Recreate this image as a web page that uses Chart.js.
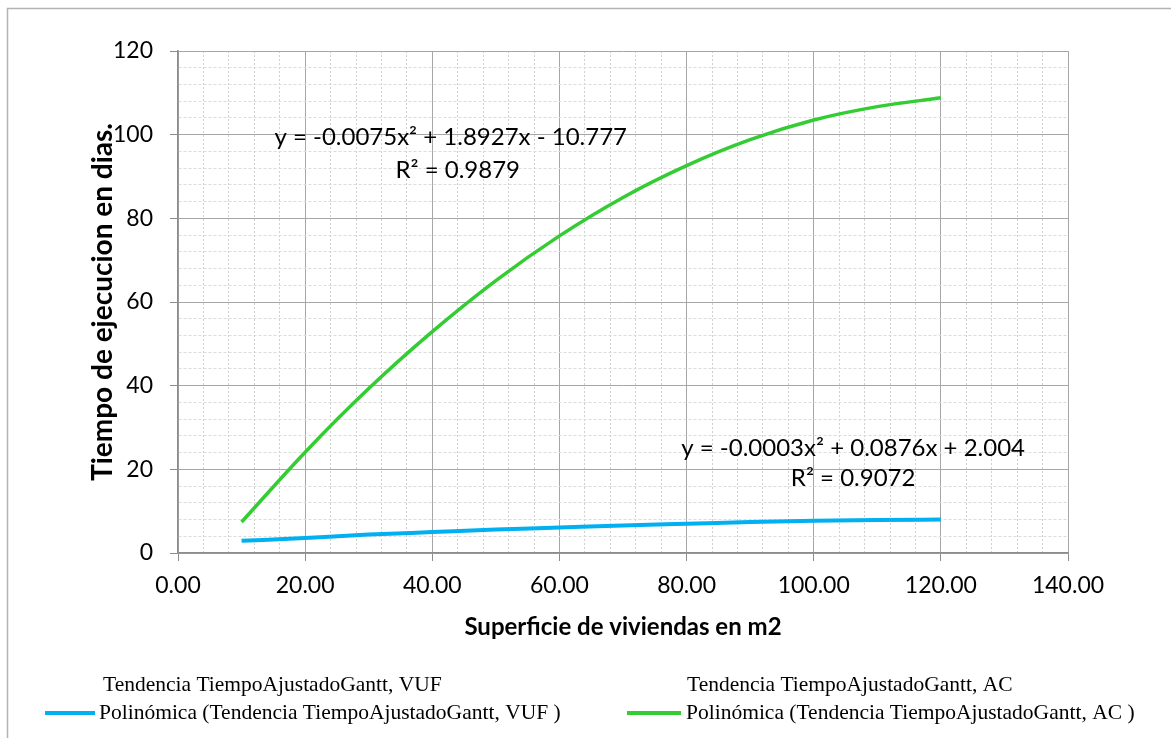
<!DOCTYPE html>
<html>
<head>
<meta charset="utf-8">
<script src="https://cdn.jsdelivr.net/npm/chart.js@4"></script>
<style>
  html, body { margin: 0; padding: 0; background: #fff; }
  #wrap { width: 1171px; height: 738px; position: relative; }
</style>
</head>
<body>
<div id="wrap"><canvas id="myChart"></canvas></div>
<script>
// superficie (m2) at which the trend curves were read
const superficie = [10, 20, 30, 40, 50, 60, 70, 80, 90, 100, 110, 120];
// polinómica VUF (blue) and AC (green)
const tiempoVUF = [2.9, 3.6, 4.4, 5.0, 5.6, 6.1, 6.6, 7.0, 7.4, 7.7, 7.9, 8.0];
const tiempoAC = [7.4, 24.1, 39.3, 52.9, 65.1, 75.8, 85.0, 92.6, 98.8, 103.5, 106.7, 108.8];

const xTitle = 'Superficie de viviendas en m2';
const yTitle = 'Tiempo de ejecucion en dias.';

const eqAC = ['y = -0.0075x\u00B2 + 1.8927x - 10.777', 'R\u00B2 = 0.9879'];
const eqVUF = ['y = -0.0003x\u00B2 + 0.0876x + 2.004', 'R\u00B2 = 0.9072'];

const legendLabels = [
    'Tendencia TiempoAjustadoGantt, VUF',
    'Polin\u00F3mica (Tendencia TiempoAjustadoGantt, VUF )',
    'Tendencia TiempoAjustadoGantt, AC',
    'Polin\u00F3mica (Tendencia TiempoAjustadoGantt, AC )'
];

const blue = '#00B0F0';
const green = '#33CC33';

const toPoints = (xs, ys) => xs.map((x, i) => ({ x: x, y: ys[i] }));

const isMajor = (v) => v % 20 === 0;

const extras = {
    id: 'extras',
    beforeDraw(chart) {
        const ctx = chart.ctx;
        ctx.save();
        ctx.strokeStyle = '#b3b3b3';
        ctx.lineWidth = 1.5;
        ctx.strokeRect(7.5, 8.5, 1300, 900);
        ctx.restore();
    },
    afterDraw(chart) {
        const ctx = chart.ctx;
        const xs = chart.scales.x;
        const ys = chart.scales.y;
        ctx.save();
        ctx.fillStyle = '#000';
        ctx.textAlign = 'center';
        ctx.textBaseline = 'middle';
        ctx.font = '24px Lato';
        // equation labels
        ctx.fillText(eqAC[0], xs.getPixelForValue(42.9), ys.getPixelForValue(99.3));
        ctx.fillText(eqAC[1], xs.getPixelForValue(44.0), ys.getPixelForValue(91.6));
        ctx.fillText(eqVUF[0], xs.getPixelForValue(106.2), ys.getPixelForValue(25.0));
        ctx.fillText(eqVUF[1], xs.getPixelForValue(106.2), ys.getPixelForValue(17.8));

        // legend
        ctx.textAlign = 'left';
        ctx.font = '21.5px "Liberation Serif"';
        ctx.fillText(legendLabels[0], 103, 685);
        ctx.fillText(legendLabels[1], 99, 713);
        ctx.fillText(legendLabels[2], 687, 685);
        ctx.fillText(legendLabels[3], 686, 713);
        ctx.lineWidth = 4;
        ctx.strokeStyle = blue;
        ctx.beginPath(); ctx.moveTo(45, 713); ctx.lineTo(95, 713); ctx.stroke();
        ctx.strokeStyle = green;
        ctx.beginPath(); ctx.moveTo(627, 713); ctx.lineTo(681, 713); ctx.stroke();
        ctx.restore();
    }
};

const ctx = document.getElementById('myChart');

const chart = new Chart(ctx, {
    type: 'scatter',
    data: {
        datasets: [{
            label: legendLabels[1],
            data: toPoints(superficie, tiempoVUF),
            borderColor: blue,
            backgroundColor: blue,
            borderWidth: 4,
            showLine: true,
            pointRadius: 0,
            cubicInterpolationMode: 'monotone'
        },
        {
            label: legendLabels[3],
            data: toPoints(superficie, tiempoAC),
            borderColor: green,
            backgroundColor: green,
            borderWidth: 3.5,
            showLine: true,
            pointRadius: 0,
            cubicInterpolationMode: 'monotone'
        }]
    },
    options: {
        responsive: true,
        maintainAspectRatio: false,
        animation: false,
        layout: {
            padding: { left: 80, top: 51, right: 103, bottom: 93 }
        },
        plugins: {
            legend: { display: false },
            tooltip: { enabled: false }
        },
        scales: {
            x: {
                type: 'linear',
                min: 0,
                max: 140,
                afterFit: (scale) => { scale.height = 92; },
                ticks: {
                    stepSize: 4,
                    autoSkip: false,
                    maxRotation: 0,
                    padding: 11,
                    color: '#000',
                    font: { family: 'Lato', size: 23 },
                    callback: (v) => isMajor(v) ? v.toFixed(2) : ''
                },
                grid: {
                    tickLength: 8,
                    color: (c) => isMajor(c.tick.value) ? '#a6a6a6' : '#cfcfcf',
                    lineWidth: 1,
                    tickColor: (c) => isMajor(c.tick.value) ? '#8c8c8c' : 'rgba(0,0,0,0)'
                },
                border: {
                    color: '#8c8c8c',
                    width: 1.5,
                    dash: (c) => (c.tick && !isMajor(c.tick.value)) ? [2, 2] : []
                },
                title: {
                    display: true,
                    text: xTitle,
                    color: '#000',
                    font: { family: 'Lato', size: 24, weight: 'bold' },
                    padding: { top: 0, bottom: 3 }
                }
            },
            y: {
                min: 0,
                max: 120,
                afterFit: (scale) => { scale.width = 98; },
                ticks: {
                    stepSize: 4,
                    autoSkip: false,
                    padding: 17,
                    color: '#000',
                    font: { family: 'Lato', size: 23 },
                    callback: (v) => isMajor(v) ? String(v) : ''
                },
                grid: {
                    tickLength: 8,
                    color: (c) => isMajor(c.tick.value) ? '#a6a6a6' : '#dcdcdc',
                    lineWidth: 1,
                    tickColor: (c) => isMajor(c.tick.value) ? '#8c8c8c' : 'rgba(0,0,0,0)'
                },
                border: {
                    color: '#8c8c8c',
                    width: 1.5,
                    dash: (c) => (c.tick && !isMajor(c.tick.value)) ? [3, 2] : []
                },
                title: {
                    display: true,
                    text: yTitle,
                    color: '#000',
                    font: { family: 'Lato', size: 28, weight: 'bold' },
                    padding: { top: 6, bottom: 0 }
                }
            }
        }
    },
    plugins: [extras]
});
</script>
</body>
</html>
